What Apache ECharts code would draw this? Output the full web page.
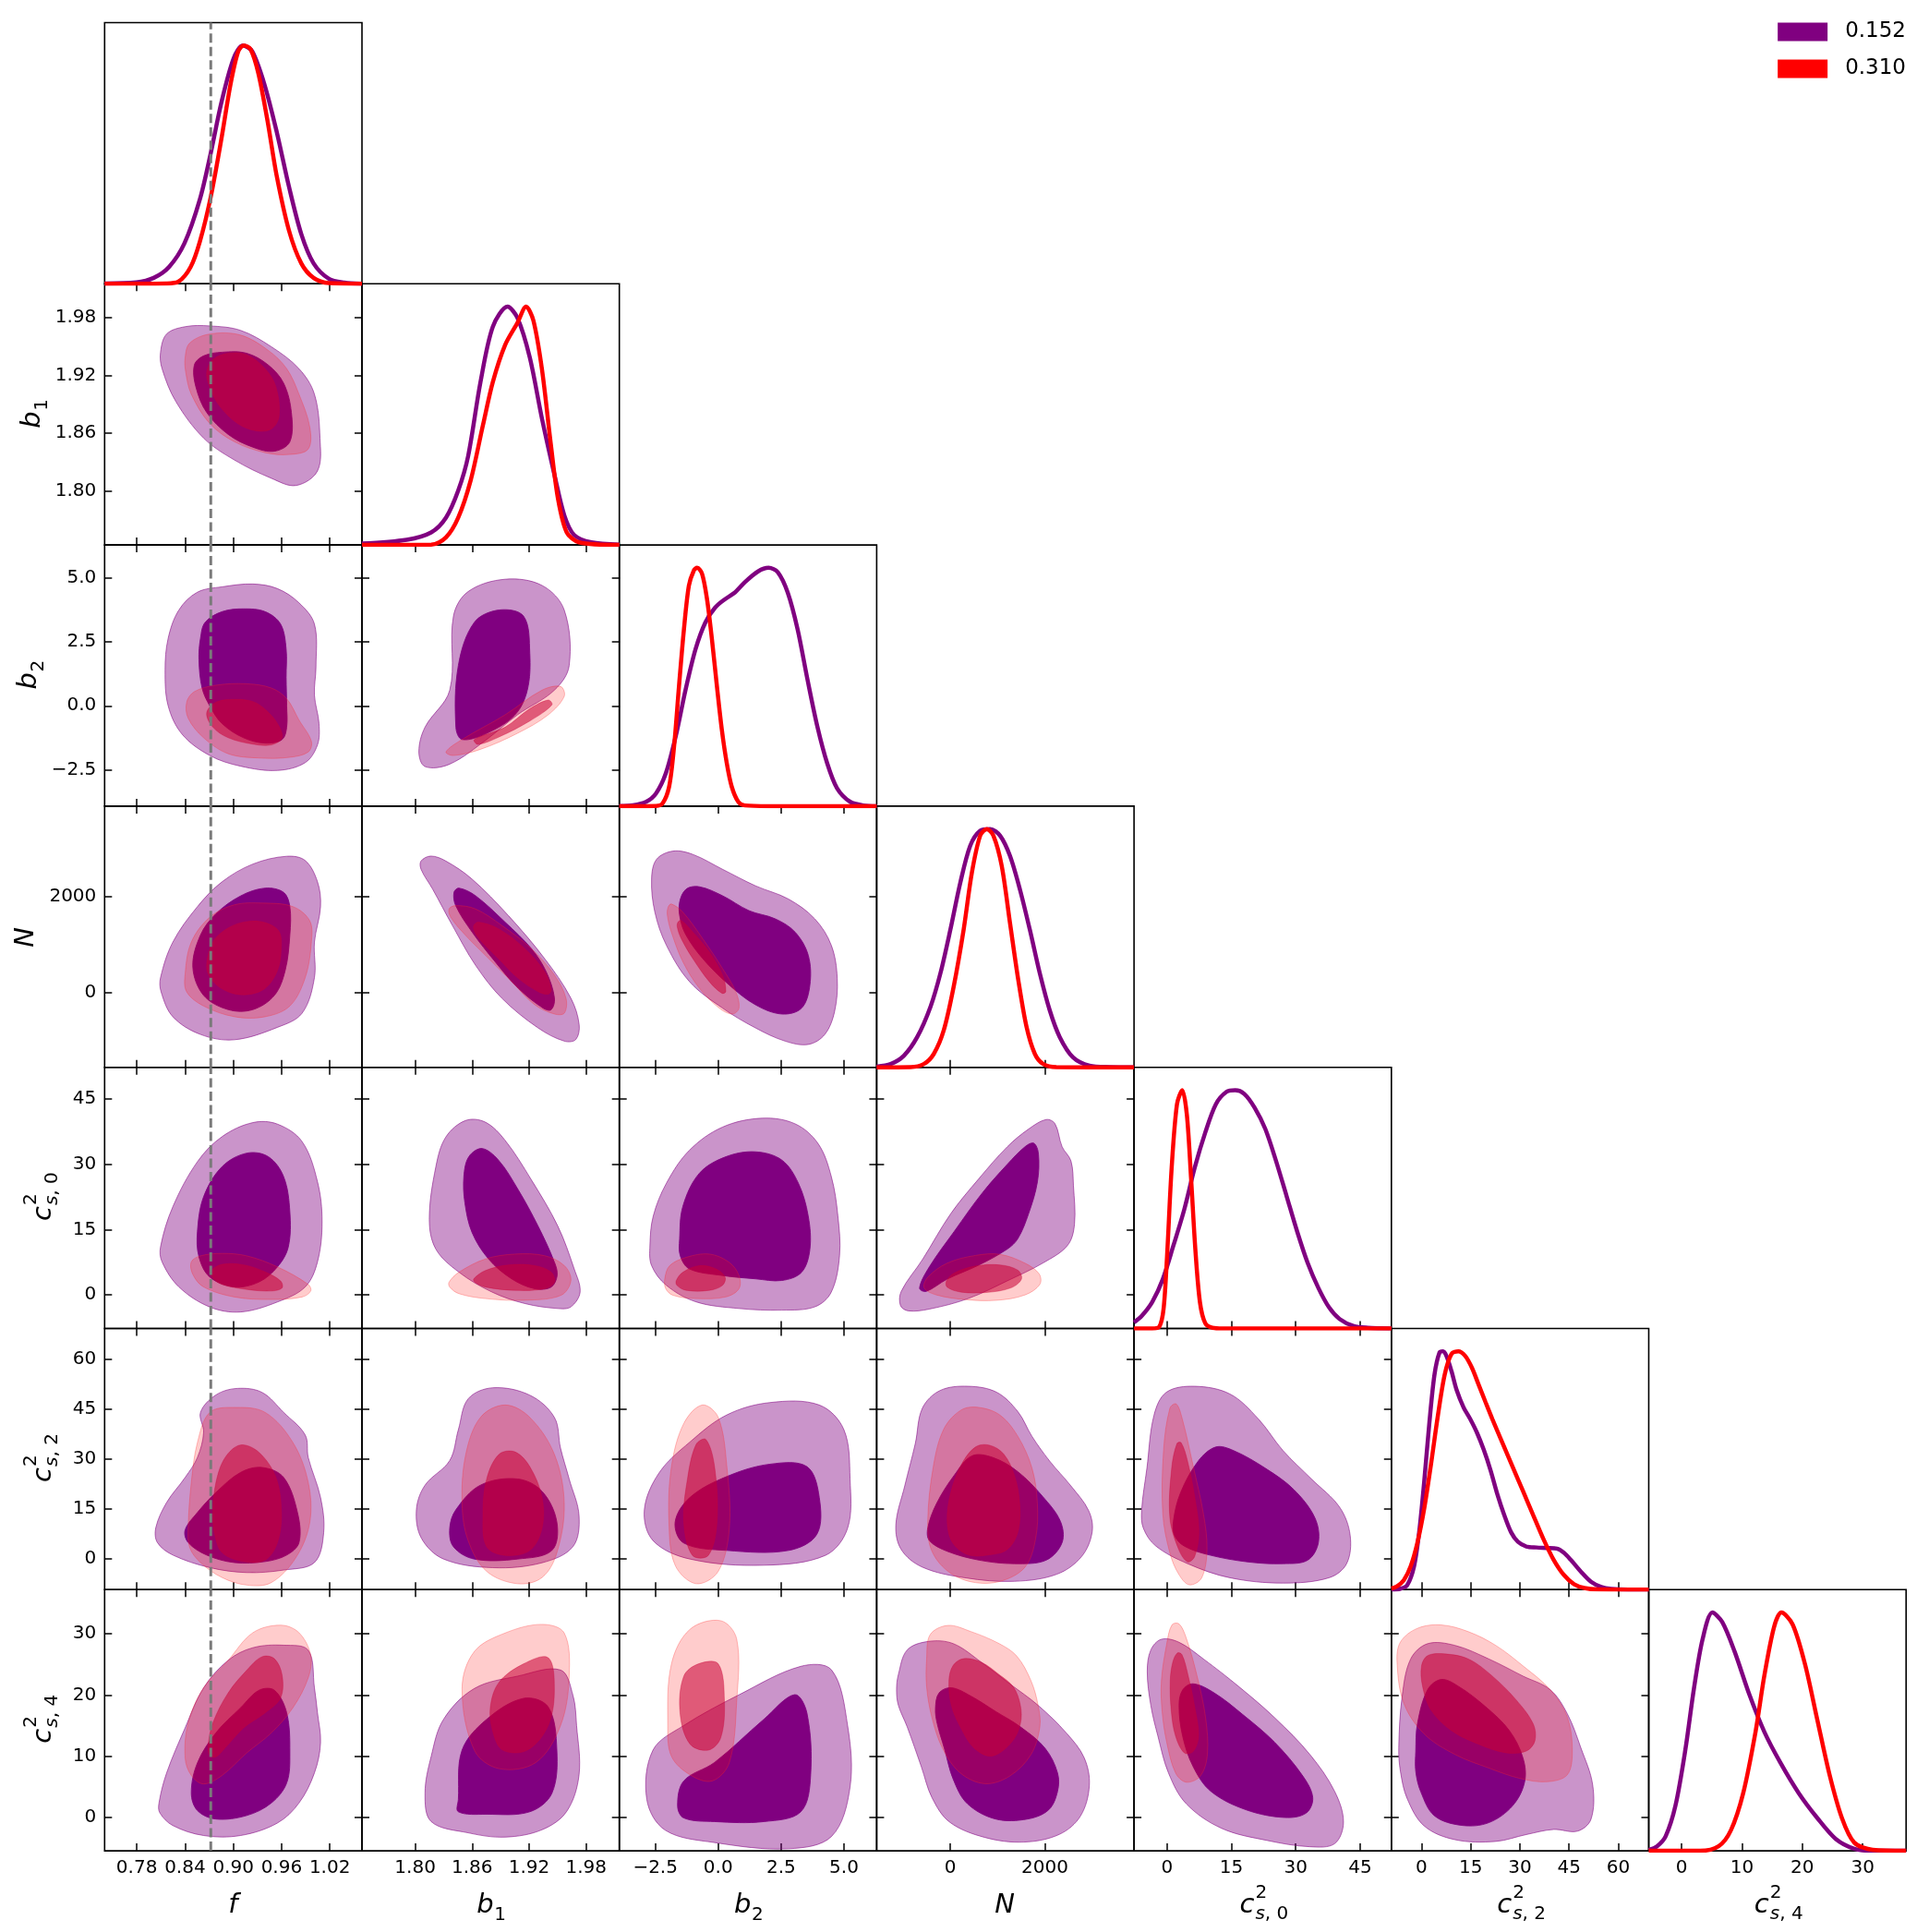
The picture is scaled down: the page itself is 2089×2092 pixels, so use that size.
<!DOCTYPE html>
<html>
<head>
<meta charset="utf-8">
<script src="https://cdn.jsdelivr.net/npm/echarts@6.0.0/dist/echarts.min.js"></script>
<style>
  html, body { margin: 0; padding: 0; background: #fff; }
  #chart { width: 2089px; height: 2092px; }
</style>
</head>
<body>
<div id="chart"></div>
<script>
// parameters: f, b1, b2, N, c2_s0, c2_s2, c2_s4
const paramKeys = ['f', 'b1', 'b2', 'N', 'cs0', 'cs2', 'cs4'];
const axisMin = [0.74, 1.744, -3.93, -1560, -7.7, -9.2, -5.44];
const axisMax = [1.06, 2.015, 6.3, 3890, 52.3, 69.3, 37.2];
const tickValues = [
  [0.78, 0.84, 0.90, 0.96, 1.02],
  [1.80, 1.86, 1.92, 1.98],
  [-2.5, 0, 2.5, 5.0],
  [0, 2000],
  [0, 15, 30, 45],
  [0, 15, 30, 45, 60],
  [0, 10, 20, 30]
];
const tickLabels = [
  ['0.78', '0.84', '0.90', '0.96', '1.02'],
  ['1.80', '1.86', '1.92', '1.98'],
  ['\u22122.5', '0.0', '2.5', '5.0'],
  ['0', '2000'],
  ['0', '15', '30', '45'],
  ['0', '15', '30', '45', '60'],
  ['0', '10', '20', '30']
];
const sampleNames = ['0.152', '0.310'];
const fiducialF = 0.872;
const pdfTop = 1.096;

// 1D marginals (normalised to peak 1)
const pdf_f_152 = [[0.74,0.0015],[0.7794,0.006],[0.8011,0.025],[0.8202,0.071],[0.8393,0.17],[0.8585,0.355],[0.8718,0.546],[0.8852,0.761],[0.9004,0.946],[0.9119,1.0],[0.9234,0.976],[0.9386,0.838],[0.9539,0.639],[0.9692,0.408],[0.9845,0.209],[0.9998,0.086],[1.0189,0.021],[1.0381,0.005],[1.06,0]];
const pdf_f_310 = [[0.74,0],[0.8164,0.0015],[0.8317,0.009],[0.847,0.071],[0.8585,0.178],[0.8718,0.362],[0.8852,0.608],[0.8966,0.838],[0.9062,0.976],[0.913,1.0],[0.9215,0.984],[0.9311,0.884],[0.9425,0.685],[0.9539,0.454],[0.9692,0.224],[0.9845,0.086],[0.9998,0.025],[1.0189,0.003],[1.06,0]];
const pdf_b1_152 = [[1.744,0.006],[1.791,0.022],[1.8169,0.053],[1.8325,0.115],[1.8454,0.229],[1.8558,0.373],[1.8688,0.684],[1.8818,0.916],[1.8973,1.0],[1.9077,0.953],[1.9207,0.787],[1.9336,0.529],[1.9466,0.296],[1.957,0.125],[1.9674,0.042],[1.9855,0.011],[2.015,0.001]];
const pdf_b1_310 = [[1.744,0],[1.8169,0.001],[1.8325,0.032],[1.8454,0.115],[1.8584,0.27],[1.8714,0.503],[1.8818,0.684],[1.8947,0.839],[1.9077,0.932],[1.9168,1.0],[1.9245,0.942],[1.9336,0.735],[1.9428,0.425],[1.9505,0.192],[1.9596,0.053],[1.9726,0.011],[2.015,0]];
const pdf_b2_152 = [[-3.93,0.001],[-3.39,0.004],[-2.867,0.018],[-2.474,0.053],[-2.081,0.138],[-1.688,0.293],[-1.296,0.489],[-0.903,0.658],[-0.51,0.771],[-0.118,0.834],[0.275,0.869],[0.668,0.897],[1.061,0.94],[1.584,0.985],[2.003,1.0],[2.37,0.982],[2.762,0.897],[3.155,0.743],[3.548,0.532],[3.94,0.335],[4.333,0.18],[4.726,0.075],[5.249,0.018],[5.773,0.003],[6.3,0]];
const pdf_b2_310 = [[-3.93,0],[-2.474,0.001],[-2.212,0.011],[-1.95,0.082],[-1.754,0.25],[-1.558,0.504],[-1.361,0.743],[-1.165,0.925],[-0.968,0.989],[-0.838,1.0],[-0.641,0.975],[-0.445,0.869],[-0.249,0.7],[-0.052,0.504],[0.144,0.321],[0.341,0.18],[0.537,0.082],[0.799,0.018],[1.061,0.003],[2.0,0],[6.3,0]];
const pdf_N_152 = [[-1560,0.003],[-1263,0.014],[-983,0.049],[-702,0.127],[-421,0.254],[-211,0.394],[0,0.577],[211,0.775],[421,0.93],[632,0.993],[842,1.0],[1053,0.972],[1263,0.887],[1474,0.746],[1684,0.577],[1895,0.394],[2105,0.239],[2316,0.127],[2597,0.042],[2947,0.007],[3368,0.001],[3890,0]];
const pdf_N_310 = [[-1560,0],[-842,0.001],[-561,0.014],[-351,0.056],[-140,0.155],[70,0.338],[281,0.577],[456,0.817],[632,0.972],[772,1.0],[912,0.972],[1088,0.845],[1263,0.606],[1439,0.366],[1614,0.169],[1790,0.056],[1965,0.014],[2246,0.001],[3890,0]];
const pdf_cs0_152 = [[-7.7,0.025],[-5.93,0.052],[-3.46,0.111],[-0.99,0.207],[1.48,0.348],[3.96,0.496],[6.43,0.674],[8.9,0.822],[11.37,0.941],[13.85,0.993],[15.91,1.0],[17.97,0.985],[20.44,0.926],[22.91,0.837],[25.39,0.704],[27.86,0.556],[30.33,0.407],[32.8,0.274],[35.28,0.17],[37.75,0.089],[40.22,0.04],[43.52,0.01],[46.81,0.003],[52.3,0]];
const pdf_cs0_310 = [[-7.7,0],[-3.46,0],[-1.81,0.007],[-0.82,0.081],[0,0.304],[1.07,0.674],[2.31,0.941],[3.54,1.0],[4.62,0.896],[5.6,0.63],[6.59,0.333],[7.66,0.111],[8.9,0.022],[10.55,0.003],[13.02,0],[52.3,0]];
const pdf_cs2_152 = [[-9.2,0],[-6.44,0.004],[-4.36,0.019],[-2.28,0.098],[-0.73,0.241],[0.83,0.457],[2.39,0.701],[3.94,0.902],[5.5,0.996],[6.54,1.0],[7.58,0.981],[9.13,0.917],[10.69,0.838],[12.77,0.766],[14.84,0.716],[16.92,0.658],[19.0,0.586],[21.07,0.5],[23.15,0.399],[25.22,0.313],[27.3,0.241],[29.38,0.201],[31.97,0.181],[35.08,0.177],[38.2,0.175],[41.31,0.172],[43.39,0.155],[45.46,0.126],[48.58,0.076],[51.69,0.033],[54.81,0.011],[57.92,0.003],[63.11,0],[69.3,0]];
const pdf_cs2_310 = [[-9.2,0.005],[-7.47,0.014],[-5.4,0.04],[-3.32,0.098],[-1.25,0.198],[0.83,0.342],[2.91,0.529],[4.98,0.73],[7.06,0.902],[9.13,0.989],[11.21,1.0],[13.29,0.981],[15.36,0.931],[17.44,0.859],[19.51,0.787],[21.59,0.716],[24.7,0.615],[27.82,0.514],[30.93,0.414],[34.05,0.313],[37.16,0.213],[40.27,0.126],[43.39,0.062],[46.5,0.023],[49.62,0.007],[53.77,0.001],[69.3,0]];
const pdf_cs4_152 = [[-5.44,0.004],[-4.07,0.019],[-2.64,0.061],[-1.01,0.19],[0.62,0.423],[2.05,0.681],[3.48,0.888],[5.11,1.0],[6.74,0.96],[8.79,0.836],[11.24,0.655],[13.7,0.5],[16.35,0.371],[19.42,0.242],[22.48,0.138],[25.54,0.05],[28.6,0.009],[31.66,0],[37.2,0]];
const pdf_cs4_310 = [[-5.44,0],[3.07,0],[6.13,0.019],[8.17,0.086],[10.21,0.242],[12.26,0.5],[13.7,0.733],[15.33,0.94],[16.54,1.0],[18.4,0.95],[20.44,0.784],[22.48,0.551],[24.52,0.319],[26.56,0.138],[28.6,0.035],[31.66,0.004],[37.2,0]];

// 2D credible regions: [0.152 outer, 0.152 inner, 0.310 outer, 0.310 inner]
const cont_f_b1 = [
  [[0.8095,1.944],[0.8171,1.9629],[0.8401,1.9705],[0.8707,1.9713],[0.909,1.9667],[0.9473,1.9497],[0.9817,1.9269],[1.0009,1.9004],[1.0078,1.8549],[1.0047,1.8208],[0.9779,1.8057],[0.9473,1.8132],[0.9013,1.8322],[0.8631,1.8549],[0.8286,1.8928],[0.8114,1.9269]],
  [[0.8516,1.9307],[0.8631,1.9402],[0.886,1.944],[0.9167,1.9429],[0.9435,1.9307],[0.9626,1.9118],[0.9722,1.8815],[0.9703,1.8511],[0.9511,1.8413],[0.9243,1.8455],[0.8937,1.8587],[0.8669,1.8815],[0.8535,1.908]],
  [[0.8401,1.9383],[0.8458,1.9535],[0.8707,1.9629],[0.909,1.9618],[0.9435,1.9459],[0.9664,1.9269],[0.9817,1.9004],[0.9951,1.8663],[0.9932,1.8436],[0.9703,1.8379],[0.9396,1.8398],[0.9013,1.8511],[0.8707,1.8701],[0.8478,1.9004],[0.8409,1.9231]],
  [[0.8669,1.9231],[0.8746,1.9364],[0.8937,1.9429],[0.9167,1.9413],[0.9396,1.9269],[0.953,1.908],[0.9569,1.8777],[0.9473,1.8644],[0.9281,1.8625],[0.9052,1.8701],[0.8822,1.889],[0.8707,1.908]]
];
const cont_f_b2 = [
  [[0.819,2.643],[0.8324,3.756],[0.8554,4.451],[0.886,4.66],[0.9243,4.771],[0.9549,4.59],[0.9817,4.034],[1.0009,3.199],[1.0028,1.53],[1.0009,0.417],[1.0066,-0.696],[1.0047,-1.53],[0.9894,-2.226],[0.9549,-2.532],[0.909,-2.365],[0.8707,-1.947],[0.8363,-1.113],[0.819,0],[0.8152,1.391]],
  [[0.8592,2.643],[0.865,3.269],[0.886,3.686],[0.9128,3.797],[0.9396,3.686],[0.9588,3.199],[0.9657,2.226],[0.9657,1.113],[0.9664,0],[0.9664,-0.835],[0.9607,-1.321],[0.9396,-1.461],[0.9128,-1.252],[0.886,-0.696],[0.8707,0],[0.8612,0.696],[0.8573,1.808]],
  [[0.842,0.139],[0.8516,0.556],[0.8784,0.807],[0.9167,0.862],[0.9473,0.696],[0.9664,0.278],[0.9817,-0.556],[0.9971,-1.391],[0.9932,-1.808],[0.9703,-2.017],[0.932,-2.045],[0.8937,-1.878],[0.8631,-1.252],[0.8439,-0.487]],
  [[0.8669,-0.278],[0.8784,0.139],[0.9013,0.25],[0.9243,0.167],[0.9396,-0.139],[0.9549,-0.696],[0.9607,-1.252],[0.9473,-1.53],[0.9243,-1.502],[0.8937,-1.252],[0.8746,-0.835]]
];
const cont_b1_b2 = [
  [[1.8039,-1.802],[1.8104,-0.836],[1.8364,0.612],[1.8403,3.509],[1.8558,4.475],[1.8947,4.958],[1.9336,4.716],[1.957,3.751],[1.9622,1.578],[1.9466,0.612],[1.9077,-0.354],[1.8753,-1.319],[1.8364,-2.285],[1.8104,-2.381]],
  [[1.8429,-0.836],[1.8455,1.578],[1.8623,3.268],[1.8883,3.751],[1.9142,3.509],[1.9207,2.061],[1.9181,0.612],[1.9051,-0.354],[1.8753,-1.078],[1.8494,-1.319]],
  [[1.8325,-1.802],[1.8494,-1.319],[1.8947,-0.354],[1.9336,0.612],[1.9531,0.757],[1.957,0.371],[1.9401,-0.354],[1.9077,-1.078],[1.8688,-1.705],[1.8403,-1.947]],
  [[1.8623,-1.319],[1.8947,-0.836],[1.9207,-0.112],[1.9401,0.226],[1.944,0.033],[1.9207,-0.595],[1.8883,-1.222],[1.8662,-1.512]]
];
const cont_f_N = [
  [[0.8095,311],[0.8248,1052],[0.8554,1793],[0.886,2311],[0.9243,2681],[0.9664,2844],[0.9894,2755],[1.0047,2311],[1.0085,1793],[1.0009,1052],[1.0009,311],[0.9856,-430],[0.9549,-726],[0.9013,-985],[0.8592,-874],[0.8248,-504],[0.8102,15]],
  [[0.8497,533],[0.8592,1200],[0.8784,1644],[0.909,2015],[0.9396,2178],[0.9626,2089],[0.9703,1793],[0.9703,1200],[0.9645,459],[0.9511,-59],[0.9243,-356],[0.8937,-356],[0.8631,-59]],
  [[0.8401,385],[0.8478,1052],[0.8707,1570],[0.9013,1830],[0.9358,1867],[0.9741,1793],[0.9951,1496],[0.9971,1052],[0.9894,311],[0.9703,-281],[0.9396,-504],[0.9013,-504],[0.8631,-281],[0.842,15]],
  [[0.8669,533],[0.8746,1052],[0.8937,1348],[0.9167,1481],[0.9396,1459],[0.9569,1274],[0.9595,904],[0.9549,459],[0.9396,89],[0.9167,-44],[0.8937,15],[0.8746,237]]
];
const cont_b1_N = [
  [[1.8062,2745],[1.8166,2848],[1.8323,2745],[1.86,2366],[1.8981,1607],[1.9363,710],[1.964,-117],[1.9727,-669],[1.9692,-979],[1.9571,-1014],[1.9294,-738],[1.8912,-117],[1.8635,572],[1.8392,1400],[1.8184,2159],[1.8062,2573]],
  [[1.8409,2090],[1.8461,2179],[1.8635,2021],[1.8947,1469],[1.9224,917],[1.938,434],[1.9467,-117],[1.9432,-359],[1.9346,-324],[1.9085,90],[1.8843,641],[1.86,1262],[1.8427,1814]],
  [[1.8357,1745],[1.8427,1814],[1.8635,1745],[1.8912,1400],[1.9224,917],[1.9467,366],[1.9588,-117],[1.9571,-428],[1.9467,-448],[1.9259,-255],[1.9016,228],[1.8739,779],[1.8531,1193],[1.8375,1572]],
  [[1.8617,1400],[1.8669,1469],[1.8877,1331],[1.9155,917],[1.9363,434],[1.9432,55],[1.9398,-34],[1.9294,21],[1.9085,297],[1.8877,710],[1.8704,1055],[1.8628,1262]]
];
const cont_b2_N = [
  [[-2.648,2366],[-2.452,2779],[-1.796,2952],[-1.009,2883],[0.17,2573],[1.481,2228],[2.792,1952],[3.841,1538],[4.497,986],[4.733,297],[4.628,-393],[4.235,-876],[3.579,-1083],[2.661,-1014],[1.481,-738],[0.17,-324],[-1.141,228],[-2.058,986],[-2.517,1676]],
  [[-1.534,1883],[-1.272,2159],[-0.747,2207],[0.17,2021],[1.219,1710],[2.268,1538],[3.055,1262],[3.579,779],[3.645,159],[3.317,-324],[2.53,-448],[1.481,-255],[0.433,159],[-0.616,710],[-1.272,1193],[-1.508,1538]],
  [[-1.993,1779],[-1.862,1848],[-1.403,1676],[-0.616,1124],[0.17,503],[0.695,21],[0.826,-324],[0.564,-448],[0.039,-324],[-0.747,90],[-1.403,641],[-1.862,1262],[-2.019,1607]],
  [[-1.6,1469],[-1.468,1504],[-1.009,1262],[-0.354,848],[0.17,366],[0.302,21],[0.144,-14],[-0.354,228],[-1.009,710],[-1.468,1124],[-1.626,1366]]
];
const cont_f_cs0 = [
  [[0.8095,11.05],[0.8248,20.26],[0.8554,30.62],[0.886,36.37],[0.9243,39.6],[0.9549,39.25],[0.9856,35.22],[1.0047,26.01],[1.0104,16.8],[1.0047,7.6],[0.9894,1.84],[0.9549,-1.61],[0.909,-3.91],[0.8707,-2.76],[0.8324,1.84],[0.8114,7.6]],
  [[0.8554,14.5],[0.8631,22.56],[0.886,29.47],[0.9167,32.57],[0.9435,31.77],[0.9626,27.16],[0.9703,19.11],[0.9684,11.05],[0.9549,6.45],[0.932,2.99],[0.9013,1.84],[0.8707,4.14],[0.8573,8.75]],
  [[0.8478,7.6],[0.8592,8.98],[0.886,9.55],[0.9167,8.98],[0.9549,6.45],[0.9932,2.42],[0.9963,0.92],[0.9856,-0.46],[0.9473,-1.04],[0.9013,-0.46],[0.8631,1.84],[0.8497,4.72]],
  [[0.8726,5.52],[0.886,7.02],[0.9128,6.91],[0.9396,5.29],[0.9588,3.22],[0.9607,1.61],[0.9473,0.92],[0.9167,1.27],[0.886,2.42],[0.8746,3.91]]
];
const cont_b1_cs0 = [
  [[1.8149,17.35],[1.8218,29.47],[1.8323,36.29],[1.8531,40.08],[1.8739,39.7],[1.8947,35.53],[1.9224,26.44],[1.9502,15.83],[1.9675,5.98],[1.9737,0.68],[1.964,-2.73],[1.9502,-3.11],[1.9155,-1.97],[1.8808,0.68],[1.8461,5.23],[1.8218,10.53]],
  [[1.8513,27.2],[1.8565,31.74],[1.8704,33.64],[1.8877,30.99],[1.9085,24.17],[1.9294,15.83],[1.9467,7.5],[1.9495,4.47],[1.9432,1.82],[1.9259,1.44],[1.9016,3.71],[1.8773,8.26],[1.86,14.32],[1.8524,21.14]],
  [[1.8357,2.95],[1.8461,5.23],[1.8739,8.26],[1.905,9.39],[1.9363,9.02],[1.9571,6.74],[1.964,3.33],[1.9536,-0.08],[1.9155,-1.21],[1.8739,-0.83],[1.8461,0.3],[1.8364,1.82]],
  [[1.8617,3.71],[1.8739,5.61],[1.8981,6.89],[1.9259,6.74],[1.9432,5.23],[1.9467,2.95],[1.9363,1.44],[1.905,1.06],[1.8739,1.82],[1.8628,2.95]]
];
const cont_b2_cs0 = [
  [[-2.714,11.29],[-2.583,18.11],[-2.058,25.68],[-1.141,33.26],[0.17,38.56],[1.744,40.61],[3.055,39.32],[3.972,34.77],[4.497,27.2],[4.759,18.11],[4.824,9.02],[4.497,0.68],[3.841,-2.73],[2.53,-3.48],[0.826,-3.11],[-0.878,-1.59],[-2.058,2.2],[-2.648,6.74]],
  [[-1.534,12.8],[-1.403,20.38],[-0.747,27.96],[0.302,31.74],[1.481,32.88],[2.53,30.99],[3.186,25.68],[3.579,18.11],[3.645,10.53],[3.317,5.23],[2.53,3.33],[1.481,3.71],[0.17,4.47],[-1.141,5.98],[-1.508,9.02]],
  [[-2.124,3.71],[-1.927,6.74],[-1.272,8.64],[-0.354,9.39],[0.433,7.5],[0.826,4.47],[0.826,1.44],[0.302,-0.45],[-0.878,-0.83],[-1.796,-0.08],[-2.084,1.44]],
  [[-1.665,3.33],[-1.403,5.23],[-0.747,6.74],[-0.092,5.98],[0.275,4.09],[0.17,2.2],[-0.354,1.06],[-1.272,1.06],[-1.639,2.2]]
];
const cont_N_cs0 = [
  [[-1056,-2.43],[-1041,0.81],[-592,8.11],[7,18.65],[607,26.76],[1206,34.05],[1656,38.11],[2030,40.3],[2217,39.33],[2367,34.05],[2554,30.81],[2607,25.13],[2629,16.22],[2480,11.35],[1955,7.3],[1206,3.24],[382,-0.81],[-442,-3.24],[-891,-3.65]],
  [[-652,1.62],[-442,6.49],[82,14.59],[682,23.51],[1206,30.0],[1581,34.05],[1768,34.86],[1865,32.43],[1843,25.95],[1656,18.65],[1431,12.97],[1206,10.54],[607,6.89],[-67,3.65],[-517,0.81]],
  [[-554,1.62],[-479,4.05],[-67,7.3],[532,9.08],[1056,9.32],[1581,7.3],[1880,4.86],[1895,2.43],[1581,0],[981,-1.22],[307,-1.05],[-292,0]],
  [[-82,3.24],[82,5.03],[532,6.65],[1056,6.89],[1431,5.68],[1506,3.65],[1281,1.62],[757,0.57],[232,0.65],[-67,1.78]]
];
const cont_f_cs2 = [
  [[0.8037,9.48],[0.8171,17.0],[0.8401,24.52],[0.8554,30.53],[0.8631,38.05],[0.8592,44.07],[0.8784,49.33],[0.9052,51.29],[0.9358,50.08],[0.9626,44.07],[0.9894,37.3],[0.9932,30.53],[1.0085,18.5],[1.0124,7.97],[1.0009,-1.05],[0.9626,-3.31],[0.9167,-4.06],[0.8707,-2.56],[0.8248,1.2],[0.8056,4.96]],
  [[0.8401,8.72],[0.8554,13.99],[0.8784,20.0],[0.909,26.02],[0.9358,27.52],[0.9626,24.52],[0.9798,13.99],[0.9817,4.96],[0.9664,1.2],[0.9396,-0.75],[0.9013,-1.05],[0.8669,1.2],[0.8439,4.96]],
  [[0.8439,9.48],[0.8478,23.01],[0.8554,35.04],[0.8707,44.07],[0.9013,45.57],[0.9396,44.07],[0.9741,35.04],[0.9932,23.01],[0.9951,10.98],[0.9779,0.45],[0.9473,-7.07],[0.9167,-7.82],[0.886,-5.56],[0.8592,-1.05],[0.8458,3.46]],
  [[0.8746,13.99],[0.8784,23.01],[0.8899,30.53],[0.909,34.29],[0.932,32.04],[0.953,24.52],[0.9598,13.99],[0.9549,4.96],[0.9396,-0.3],[0.9128,-0.75],[0.886,1.96],[0.8765,7.97]]
];
const cont_b1_cs2 = [
  [[1.8013,14.81],[1.8104,22.21],[1.8364,29.62],[1.8455,38.88],[1.8558,48.15],[1.8818,51.48],[1.9207,49.26],[1.9466,42.59],[1.9531,33.33],[1.9622,24.07],[1.9726,12.96],[1.9661,3.7],[1.9336,-1.12],[1.8818,-2.6],[1.8299,0],[1.8065,6.3]],
  [[1.8364,9.26],[1.8429,14.81],[1.8688,22.21],[1.9077,24.07],[1.9336,20.36],[1.9492,11.11],[1.944,2.59],[1.9077,0],[1.8623,0],[1.8403,3.7]],
  [[1.8494,16.66],[1.8533,31.47],[1.8688,42.59],[1.8947,46.3],[1.9207,42.59],[1.9466,31.47],[1.957,16.66],[1.9492,1.85],[1.9336,-5.56],[1.9077,-7.41],[1.8753,-3.71],[1.8558,5.56]],
  [[1.8714,12.96],[1.8753,24.07],[1.8883,31.47],[1.9051,32.21],[1.9207,27.77],[1.9336,18.51],[1.9336,9.26],[1.9207,2.59],[1.8947,1.11],[1.8753,3.7]]
];
const cont_b2_cs2 = [
  [[-2.936,14.81],[-2.348,25.92],[-1.124,35.18],[0.345,43.33],[2.059,47.04],[4.018,46.3],[4.997,38.88],[5.242,24.07],[5.144,9.26],[4.263,1.11],[1.814,-1.86],[-1.124,0],[-2.593,5.56]],
  [[-1.712,11.11],[-1.124,18.51],[0.345,24.81],[2.059,28.51],[3.528,27.77],[4.018,18.51],[3.92,7.41],[2.794,2.59],[0.345,2.59],[-1.369,4.82]],
  [[-1.957,11.11],[-1.858,27.77],[-1.369,40.74],[-0.634,46.3],[0.002,42.59],[0.345,27.77],[0.443,9.26],[0.002,-3.71],[-0.879,-7.41],[-1.712,-1.86]],
  [[-1.369,11.11],[-1.222,24.07],[-0.879,34.44],[-0.487,35.92],[-0.145,27.77],[-0.047,11.11],[-0.39,1.11],[-1.026,1.11]]
];
const cont_N_cs2 = [
  [[-1154,10.3],[-966,21.98],[-742,34.73],[-592,45.35],[-217,50.66],[382,51.93],[981,50.13],[1431,44.29],[1730,36.85],[2105,29.42],[2554,21.98],[2929,14.55],[3004,8.18],[2779,0.74],[2255,-4.57],[1356,-6.69],[307,-5.63],[-592,-2.44],[-1041,2.87]],
  [[-479,9.24],[-292,16.67],[82,25.17],[457,31.01],[906,30.48],[1431,26.23],[1955,18.8],[2330,11.36],[2367,4.99],[2030,-0.32],[1356,-1.38],[607,-0.32],[-67,2.34],[-442,5.52]],
  [[-479,11.36],[-367,27.29],[-142,38.98],[232,44.82],[607,45.56],[1056,43.22],[1431,36.85],[1730,27.29],[1843,16.67],[1805,6.05],[1581,-2.44],[1056,-6.69],[457,-6.9],[-67,-3.5],[-405,2.87]],
  [[-67,11.36],[7,19.86],[232,28.36],[532,33.67],[832,34.2],[1131,31.54],[1356,25.17],[1468,16.67],[1431,8.18],[1206,2.87],[832,1.27],[382,1.27],[45,4.99]]
];
const cont_cs0_cs2 = [
  [[-5.93,14.55],[-4.7,27.29],[-3.05,43.22],[-0.16,50.13],[6.43,51.93],[14.67,49.6],[21.26,42.16],[27.03,32.6],[33.63,24.11],[40.22,15.61],[42.69,7.12],[41.87,-1.38],[37.75,-5.63],[27.03,-7.22],[14.67,-5.63],[4.78,-1.38],[-2.64,3.93],[-5.52,9.24]],
  [[1.48,11.36],[3.13,19.86],[7.25,29.42],[11.37,33.67],[15.5,32.6],[22.91,27.29],[29.51,20.92],[34.45,12.43],[35.28,4.99],[32.8,-0.32],[27.03,-1.38],[18.79,-0.85],[9.73,1.27],[3.96,3.93],[1.73,7.12]],
  [[-0.99,13.49],[-0.82,32.6],[0.66,45.35],[2.14,46.62],[3.54,42.16],[6.02,28.36],[8.49,13.49],[9.31,2.87],[8.08,-5.63],[5.19,-7.75],[2.72,-4.57],[0.66,1.81]],
  [[0.66,12.43],[1.07,27.29],[2.31,34.73],[3.3,34.94],[4.78,29.42],[6.43,18.8],[7.42,8.18],[6.43,0.74],[4.78,-0.85],[2.72,2.87]]
];
const cont_f_cs4 = [
  [[0.8076,2.37],[0.8171,7.28],[0.8401,14.64],[0.8631,21.18],[0.8937,25.68],[0.9243,27.72],[0.9626,28.13],[0.9932,27.31],[1.0009,21.18],[1.0047,17.09],[1.0085,12.18],[1.0009,7.28],[0.9817,2.37],[0.9549,-0.9],[0.909,-2.94],[0.8631,-2.94],[0.8248,-1.31],[0.8087,0.74]],
  [[0.8478,4.01],[0.8554,8.91],[0.8784,13.82],[0.909,17.91],[0.932,20.77],[0.9511,20.77],[0.9664,17.09],[0.9703,10.55],[0.9664,5.64],[0.9473,2.37],[0.9167,0.33],[0.8784,-0.25],[0.8554,1.14]],
  [[0.8401,9.73],[0.8439,15.45],[0.8631,21.18],[0.8937,25.68],[0.9243,30.17],[0.9588,31.4],[0.9817,30.17],[0.9963,26.49],[0.9932,22.81],[0.9741,17.91],[0.9473,13.82],[0.9167,10.55],[0.886,6.87],[0.8631,5.48],[0.8478,6.87]],
  [[0.8688,11.77],[0.8746,15.45],[0.8937,20.36],[0.9167,24.04],[0.9358,26.25],[0.9511,25.92],[0.9607,23.22],[0.9588,19.54],[0.9396,17.09],[0.9128,14.64],[0.8899,11.37],[0.8784,9.89],[0.8707,10.14]]
];
const cont_b1_cs4 = [
  [[1.8104,3.96],[1.8169,10.0],[1.8299,16.03],[1.8623,21.06],[1.9077,23.07],[1.9531,24.08],[1.9661,20.0],[1.97,15.02],[1.9726,6.98],[1.9596,1.0],[1.9336,-2.0],[1.8947,-3.2],[1.8558,-2.5],[1.8169,-0.67]],
  [[1.8455,2.95],[1.8494,11.0],[1.8753,16.03],[1.9142,19.45],[1.9401,18.04],[1.9492,11.0],[1.944,3.96],[1.9207,0.94],[1.8753,0.54],[1.8455,0.94]],
  [[1.8494,21.06],[1.8623,27.1],[1.8947,30.12],[1.9336,31.53],[1.957,30.12],[1.9622,23.07],[1.9531,15.02],[1.9271,8.99],[1.8883,7.98],[1.8623,11.0]],
  [[1.8792,18.04],[1.8883,22.07],[1.9142,25.09],[1.9401,26.09],[1.9466,21.06],[1.9401,15.02],[1.9181,11.0],[1.8922,11.0],[1.8818,14.02]]
];
const cont_b2_cs4 = [
  [[-2.838,2.95],[-2.593,11.0],[-1.369,15.02],[0.835,20.05],[3.284,24.68],[4.508,24.08],[5.144,15.02],[5.242,4.96],[4.508,-3.08],[2.794,-5.1],[-0.145,-4.09],[-2.103,-2.08]],
  [[-1.614,1.94],[-1.369,5.97],[-0.145,8.99],[1.814,16.03],[3.039,20.05],[3.528,17.04],[3.675,6.98],[3.284,0.94],[1.814,-0.67],[-0.145,-0.67],[-1.369,-0.07]],
  [[-2.005,15.02],[-1.858,25.09],[-1.124,30.72],[0.1,32.13],[0.737,29.11],[0.737,19.05],[0.443,8.99],[-0.243,5.97],[-1.124,6.98],[-1.858,9.99]],
  [[-1.516,17.04],[-1.369,23.07],[-0.781,25.09],[0.002,25.09],[0.247,19.05],[0.1,13.01],[-0.39,11.0],[-1.124,12.0]]
];
const cont_N_cs4 = [
  [[-1139,20.82],[-1101,23.33],[-914,27.35],[-464,28.75],[60,28.39],[659,25.34],[1258,21.83],[1858,18.32],[2457,13.8],[2832,9.79],[2944,5.27],[2757,0.25],[2307,-2.76],[1558,-4.01],[734,-3.26],[-15,-0.75],[-390,3.26],[-614,8.28],[-914,14.8],[-1101,18.32]],
  [[-315,17.81],[-240,20.32],[22,21.18],[434,19.82],[959,17.31],[1483,14.8],[2008,11.29],[2270,7.28],[2270,4.27],[2082,1.25],[1633,-0.25],[959,-0.25],[360,2.26],[60,6.27],[-127,11.29],[-277,15.31]],
  [[-502,25.84],[-427,29.86],[-52,31.36],[434,30.36],[1034,28.39],[1408,26.34],[1708,22.33],[1858,18.32],[1895,14.8],[1708,10.29],[1258,6.77],[734,5.52],[210,7.28],[-165,11.29],[-390,16.31],[-502,21.33]],
  [[-30,22.33],[60,24.84],[285,25.94],[659,25.34],[1034,23.33],[1333,21.33],[1483,18.32],[1483,15.31],[1296,12.29],[884,10.04],[509,11.29],[210,14.8],[22,18.32]]
];
const cont_cs0_cs4 = [
  [[-4.62,23.84],[-3.79,27.35],[-1.32,29.1],[2.8,28.6],[8.57,25.84],[16.81,21.33],[25.06,16.31],[33.3,10.29],[39.07,4.27],[41.13,-0.75],[39.07,-4.27],[33.3,-4.77],[23.41,-3.76],[12.69,-1.76],[4.45,2.26],[0.33,7.28],[-2.14,13.3],[-3.79,18.32]],
  [[2.8,18.32],[3.63,20.82],[6.1,21.83],[11.04,20.32],[17.64,16.81],[25.06,12.29],[31.65,6.77],[33.96,3.26],[32.47,0.75],[27.53,0],[18.46,1.25],[10.22,4.27],[6.1,8.28],[3.63,13.3]],
  [[-1.32,22.33],[-0.08,28.35],[1.15,31.46],[2.8,31.61],[4.45,29.35],[6.92,23.33],[8.98,16.31],[9.4,10.29],[7.75,6.77],[4.45,5.77],[1.98,7.28],[-0.08,12.29],[-1.15,17.31]],
  [[0.74,22.33],[1.32,25.34],[2.39,26.85],[3.46,26.6],[4.86,23.33],[6.51,17.81],[7.34,13.3],[6.1,10.79],[4.04,10.54],[1.98,13.3],[0.99,17.31]]
];
const cont_cs2_cs4 = [
  [[-6.95,11.41],[-5.92,19.76],[-3.32,25.88],[1.87,28.38],[10.17,28.1],[20.55,25.88],[30.93,23.09],[39.24,20.87],[44.43,16.97],[48.58,11.41],[52.21,5.29],[51.69,-0.28],[47.54,-2.23],[40.27,-1.95],[31.97,-2.78],[22.63,-3.9],[10.17,-3.62],[0.83,-1.39],[-4.36,3.06],[-6.44,7.51]],
  [[-1.76,10.85],[-1.25,15.3],[1.87,20.87],[6.02,22.54],[11.21,21.43],[19.51,18.09],[26.78,14.19],[30.93,9.74],[31.45,5.84],[27.82,1.95],[20.55,-0.83],[12.25,-1.28],[3.94,0.28],[-0.21,4.17],[-1.76,7.51]],
  [[-7.47,25.32],[-6.44,28.66],[-1.25,30.89],[6.02,31.44],[14.32,30.33],[22.63,28.1],[30.93,24.76],[39.24,20.87],[44.43,16.42],[45.98,10.85],[44.43,6.96],[38.2,5.84],[29.89,6.4],[20.55,8.07],[10.17,10.3],[0.83,13.63],[-5.4,18.64]],
  [[0,24.76],[1.87,26.43],[7.06,26.71],[14.32,25.88],[21.59,23.09],[28.86,19.2],[34.05,15.3],[34.57,12.52],[31.97,10.85],[25.74,10.57],[17.44,11.96],[9.13,14.19],[2.91,17.53],[0.31,21.43]]
];

// lookup tables
const pdf152 = [pdf_f_152, pdf_b1_152, pdf_b2_152, pdf_N_152, pdf_cs0_152, pdf_cs2_152, pdf_cs4_152];
const pdf310 = [pdf_f_310, pdf_b1_310, pdf_b2_310, pdf_N_310, pdf_cs0_310, pdf_cs2_310, pdf_cs4_310];
const panelContours = {
  '1-0': cont_f_b1,
  '2-0': cont_f_b2, '2-1': cont_b1_b2,
  '3-0': cont_f_N, '3-1': cont_b1_N, '3-2': cont_b2_N,
  '4-0': cont_f_cs0, '4-1': cont_b1_cs0, '4-2': cont_b2_cs0, '4-3': cont_N_cs0,
  '5-0': cont_f_cs2, '5-1': cont_b1_cs2, '5-2': cont_b2_cs2, '5-3': cont_N_cs2, '5-4': cont_cs0_cs2,
  '6-0': cont_f_cs4, '6-1': cont_b1_cs4, '6-2': cont_b2_cs4, '6-3': cont_N_cs4, '6-4': cont_cs0_cs4, '6-5': cont_cs2_cs4
};

// layout / styling
const L0 = 113.3, T0 = 24.5, PW = 278.7, PH = 282.8;
const PURPLE = '#800080', RED = '#ff0000';
const contourFill = ['rgba(128,0,128,0.42)', '#800080', 'rgba(255,0,0,0.2)', 'rgba(200,0,54,0.56)'];
const contourEdge = ['rgba(128,0,128,0.55)', 'rgba(128,0,128,0.9)', 'rgba(255,40,40,0.3)', 'rgba(200,0,54,0.35)'];
const FONT = 'DejaVu Sans';

function tickText(p, v) {
  const k = tickValues[p].findIndex(t => Math.abs(t - v) < 1e-9);
  return k >= 0 ? tickLabels[p][k] : '';
}

function makeAxis(gi, position, p, ticks, labels) {
  return {
    type: 'value', gridIndex: gi, position: position,
    min: axisMin[p], max: axisMax[p],
    axisLine: { show: false, onZero: false },
    splitLine: { show: false },
    axisTick: { show: ticks, inside: true, length: 8, lineStyle: { color: '#000', width: 1.5 }, customValues: tickValues[p] },
    axisLabel: { show: labels, customValues: tickValues[p], formatter: v => tickText(p, v),
      margin: 9, color: '#000', fontSize: 20, fontFamily: FONT }
  };
}

const grid = [], xAxis = [], yAxis = [], series = [];

for (let i = 0; i < 7; i++) {
  for (let j = 0; j <= i; j++) {
    const gi = grid.length;
    const diag = i === j;
    grid.push({ left: L0 + j * PW, top: T0 + i * PH, width: PW, height: PH,
      show: true, borderColor: '#000', borderWidth: 1.6, backgroundColor: 'rgba(0,0,0,0)' });
    const xi = xAxis.length;
    xAxis.push(makeAxis(gi, 'bottom', j, !diag || j >= 3, i === 6));
    if (!diag) xAxis.push(makeAxis(gi, 'top', j, true, false));
    const yi = yAxis.length;
    if (diag) {
      yAxis.push({ type: 'value', gridIndex: gi, min: 0, max: pdfTop, show: false, axisLine: { onZero: false } });
      series.push({ type: 'line', name: sampleNames[0], xAxisIndex: xi, yAxisIndex: yi, data: pdf152[j],
        showSymbol: false, smooth: 0.3, silent: true, z: 3,
        lineStyle: { color: PURPLE, width: 4.5 }, itemStyle: { color: PURPLE } });
      series.push({ type: 'line', name: sampleNames[1], xAxisIndex: xi, yAxisIndex: yi, data: pdf310[j],
        showSymbol: false, smooth: 0.3, silent: true, z: 4,
        lineStyle: { color: RED, width: 4.5 }, itemStyle: { color: RED } });
    } else {
      yAxis.push(makeAxis(gi, 'left', i, true, j === 0));
      yAxis.push(makeAxis(gi, 'right', i, true, false));
      const polys = panelContours[i + '-' + j];
      series.push({
        type: 'custom', xAxisIndex: xi, yAxisIndex: yi, clip: true, silent: true, z: 2,
        data: polys.map((p, k) => [k, 0]),
        renderItem: function (params, api) {
          const k = params.dataIndex;
          return {
            type: 'polygon',
            shape: { points: polys[k].map(pt => api.coord(pt)), smooth: 0.35 },
            style: { fill: contourFill[k], stroke: contourEdge[k], lineWidth: 1 }
          };
        }
      });
    }
    if (j === 0) {
      const yLo = diag ? 0 : axisMin[i], yHi = diag ? pdfTop : axisMax[i];
      series.push({ type: 'line', xAxisIndex: xi, yAxisIndex: yi,
        data: [[fiducialF, yLo], [fiducialF, yHi]], showSymbol: false, silent: true, z: 6,
        lineStyle: { color: '#7a7a7a', width: 3, type: [10, 4.5] } });
    }
  }
}

// axis titles (math style: main symbol with sub/superscripts)
function mathLabel(main, sup, sub, x, y, rotation) {
  const mainW = { f: 11, b: 18, N: 23, c: 16 }[main];
  const subW = sub ? (sub.length > 2 ? 34 : 12) : 0;
  const supW = sup ? 12 : 0;
  const w = mainW + Math.max(subW, supW);
  const x0 = -w / 2;
  const children = [{ type: 'text', silent: true,
    style: { text: main, x: x0, y: 0, fill: '#000', font: 'italic 29px "' + FONT + '"',
      verticalAlign: 'middle', textVerticalAlign: 'middle' } }];
  if (sup) children.push({ type: 'text', silent: true,
    style: { text: sup, x: x0 + mainW + 1, y: -13, fill: '#000', font: '20px "' + FONT + '"',
      verticalAlign: 'middle', textVerticalAlign: 'middle' } });
  if (sub) children.push({ type: 'text', silent: true,
    style: { text: sub, x: x0 + mainW + 1, y: main === 'b' ? 11 : 10, fill: '#000', font: '20px "' + FONT + '"',
      rich: { i: { fontStyle: 'italic', fontSize: 20, fontFamily: FONT } },
      verticalAlign: 'middle', textVerticalAlign: 'middle' } });
  return { type: 'group', x: x, y: y, rotation: rotation, silent: true, children: children };
}

const titleParts = [
  ['f', null, null], ['b', null, '1'], ['b', null, '2'], ['N', null, null],
  ['c', '2', '{i|s}, 0'], ['c', '2', '{i|s}, 2'], ['c', '2', '{i|s}, 4']
];
const yTitleX = [0, 35, 31, 28.5, 47, 47, 47];
const graphics = [];
for (let p = 0; p < 7; p++) {
  const t = titleParts[p];
  graphics.push(mathLabel(t[0], t[1], t[2], L0 + p * PW + PW / 2, 2063, 0));
  if (p > 0) graphics.push(mathLabel(t[0], t[1], t[2], yTitleX[p], T0 + p * PH + PH / 2, Math.PI / 2));
}

const chart = echarts.init(document.getElementById('chart'));
chart.setOption({
  animation: false,
  backgroundColor: '#fff',
  textStyle: { fontFamily: FONT },
  legend: {
    data: [
      { name: sampleNames[0], icon: 'rect', itemStyle: { color: PURPLE } },
      { name: sampleNames[1], icon: 'rect', itemStyle: { color: RED } }
    ],
    orient: 'vertical', right: 20, top: 18, itemWidth: 54, itemHeight: 20, itemGap: 17,
    selectedMode: false,
    textStyle: { fontSize: 23, fontFamily: FONT, color: '#000', padding: [0, 0, 0, 14] }
  },
  grid: grid,
  xAxis: xAxis,
  yAxis: yAxis,
  graphic: graphics,
  series: series
});
</script>
</body>
</html>
